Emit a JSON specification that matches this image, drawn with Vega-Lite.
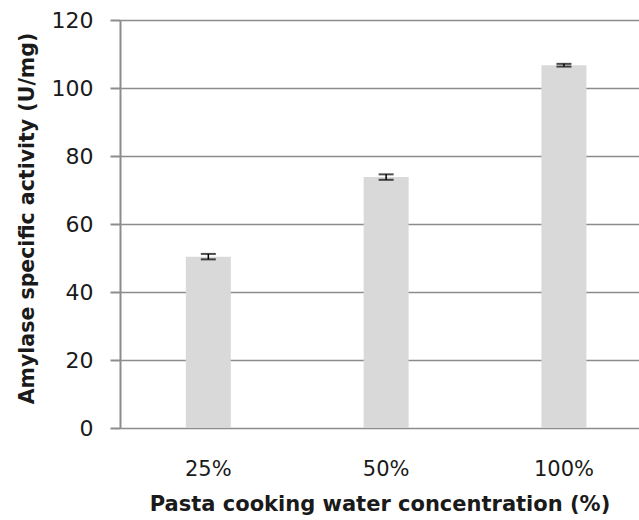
{
  "$schema": "https://vega.github.io/schema/vega-lite/v6.json",
  "width": 519,
  "height": 408,
  "autosize": {"type": "none"},
  "padding": {"left": 120, "top": 20, "right": 0, "bottom": 92},
  "background": "white",
  "config": {"view": {"stroke": null}, "font": "DejaVu Sans"},
  "data": {"values": [
    {"conc": "25%", "activity": 50.4, "err": 0.8},
    {"conc": "50%", "activity": 73.8, "err": 0.8},
    {"conc": "100%", "activity": 106.7, "err": 0.4}
  ]},
  "encoding": {
    "x": {
      "field": "conc", "type": "nominal", "sort": null,
      "scale": {"paddingInner": 0.747, "paddingOuter": 0.333, "align": 0.556},
      "axis": {
        "title": "Pasta cooking water concentration (%)",
        "titleFont": "DejaVu Sans", "titleFontSize": 21, "titleFontWeight": "bold", "titleColor": "#1a1a1a",
        "titlePadding": 14,
        "labelAngle": 0, "labelFontSize": 21, "labelColor": "#1a1a1a", "labelPadding": 30,
        "ticks": false, "domain": false, "grid": false
      }
    }
  },
  "layer": [
    {
      "mark": {"type": "bar", "color": "#d9d9d9"},
      "encoding": {
        "y": {
          "field": "activity", "type": "quantitative",
          "title": "Amylase specific activity (U/mg)",
          "scale": {"domain": [0, 120]},
          "axis": {
            "titleFont": "DejaVu Sans", "titleFontSize": 20.5, "titleFontWeight": "bold", "titleColor": "#1a1a1a",
            "titleX": -93, "titleY": 198, "titleAngle": -90, "titleBaseline": "middle", "titleAlign": "center",
            "values": [0, 20, 40, 60, 80, 100, 120],
            "labelFontSize": 22, "labelColor": "#1a1a1a", "labelPadding": 17,
            "tickSize": 10, "tickColor": "#8c8c8c", "tickWidth": 2,
            "domainColor": "#8c8c8c", "domainWidth": 2,
            "grid": true, "gridColor": "#8c8c8c", "gridWidth": 1.5
          }
        }
      }
    },
    {
      "mark": {"type": "errorbar", "ticks": {"size": 15, "thickness": 2, "color": "black"}, "rule": {"strokeWidth": 1.5}, "color": "black"},
      "encoding": {
        "y": {"field": "activity", "type": "quantitative", "title": "Amylase specific activity (U/mg)"},
        "yError": {"field": "err"}
      }
    }
  ]
}
